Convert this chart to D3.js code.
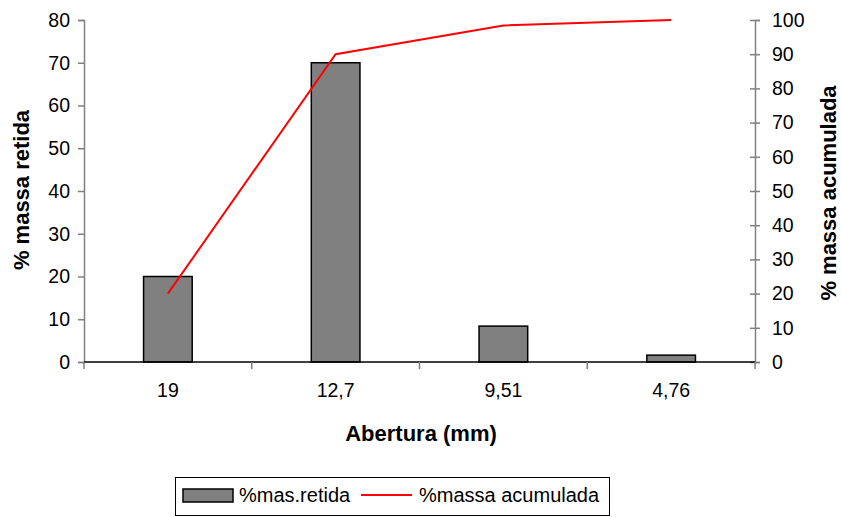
<!DOCTYPE html>
<html>
<head>
<meta charset="utf-8">
<script src="https://cdn.jsdelivr.net/npm/d3@7/dist/d3.min.js"></script>
<style>
  html, body { margin: 0; padding: 0; background: #fff; }
  svg { display: block; font-family: "Liberation Sans", Arial, sans-serif; }
</style>
</head>
<body>
<svg id="chart" width="841" height="517"></svg>
<script>
// Sieve openings (mm) and mass fractions
const aberturas = ["19", "12,7", "9,51", "4,76"];
const massaRetida = [20, 70, 8.4, 1.6];        // % retained on each sieve
const massaAcumulada = [20, 90, 98.4, 100];     // % cumulative retained
const ticksLeft = [0, 10, 20, 30, 40, 50, 60, 70, 80];
const ticksRight = [0, 10, 20, 30, 40, 50, 60, 70, 80, 90, 100];

const svg = d3.select("#chart");
const plot = { left: 84, right: 755, top: 20, bottom: 362 };

const x = d3.scaleBand().domain(aberturas).range([plot.left, plot.right]).padding(0);
const yL = d3.scaleLinear().domain([0, 80]).range([plot.bottom, plot.top]);
const yR = d3.scaleLinear().domain([0, 100]).range([plot.bottom, plot.top]);
const barW = x.bandwidth() * 0.29;
const axisGray = "#808080";
const tickFont = 19.5;

// Bars: % retained
svg.append("g").selectAll("rect")
  .data(aberturas)
  .join("rect")
  .attr("x", (d) => x(d) + (x.bandwidth() - barW) / 2)
  .attr("y", (d, i) => yL(massaRetida[i]))
  .attr("width", barW)
  .attr("height", (d, i) => yL(0) - yL(massaRetida[i]))
  .attr("fill", "#808080")
  .attr("stroke", "#000")
  .attr("stroke-width", 1.5);

// Left axis
const gL = svg.append("g")
  .attr("transform", `translate(${plot.left},0)`)
  .call(d3.axisLeft(yL).tickValues(ticksLeft).tickSize(6).tickPadding(8));
gL.select(".domain").attr("stroke", axisGray).attr("stroke-width", 1.5);
gL.selectAll(".tick line").attr("stroke", axisGray).attr("stroke-width", 1.5);
gL.selectAll(".tick text").attr("font-size", tickFont).attr("fill", "#000")
  .attr("font-family", "Liberation Sans, Arial, sans-serif");

// Right axis (ticks cross the axis line)
const gR = svg.append("g")
  .attr("transform", `translate(${plot.right},0)`)
  .call(d3.axisRight(yR).tickValues(ticksRight).tickSize(5).tickPadding(12));
gR.select(".domain").attr("stroke", axisGray).attr("stroke-width", 1.5);
gR.selectAll(".tick line").attr("x1", -5).attr("stroke", axisGray).attr("stroke-width", 1.5);
gR.selectAll(".tick text").attr("font-size", tickFont).attr("fill", "#000")
  .attr("font-family", "Liberation Sans, Arial, sans-serif");

// Bottom axis: category labels, boundary ticks
const gB = svg.append("g")
  .attr("transform", `translate(0,${plot.bottom})`)
  .call(d3.axisBottom(x).tickSize(0).tickPadding(21));
gB.select(".domain").remove();
gB.selectAll(".tick text").attr("font-size", tickFont).attr("fill", "#000")
  .attr("font-family", "Liberation Sans, Arial, sans-serif");
gB.append("line")
  .attr("x1", plot.left).attr("x2", plot.right)
  .attr("y1", 0).attr("y2", 0)
  .attr("stroke", "#000").attr("stroke-width", 1.5);
const bounds = aberturas.map((d) => x(d)).concat([x(aberturas[aberturas.length - 1]) + x.bandwidth()]);
gB.selectAll(".bound")
  .data(bounds)
  .join("line")
  .attr("class", "bound")
  .attr("x1", (d) => d).attr("x2", (d) => d)
  .attr("y1", 0).attr("y2", 7)
  .attr("stroke", axisGray).attr("stroke-width", 1.5);

// Line: % cumulative
const line = d3.line()
  .x((d, i) => x(aberturas[i]) + x.bandwidth() / 2)
  .y((d) => yR(d));
svg.append("path")
  .datum(massaAcumulada)
  .attr("d", line)
  .attr("fill", "none")
  .attr("stroke", "#ff0000")
  .attr("stroke-width", 2);

// Axis titles
svg.append("text")
  .attr("transform", "translate(29,190) rotate(-90)")
  .attr("text-anchor", "middle")
  .attr("font-size", 22).attr("font-weight", "bold")
  .text("% massa retida");
svg.append("text")
  .attr("transform", "translate(836,193) rotate(-90)")
  .attr("text-anchor", "middle")
  .attr("font-size", 22).attr("font-weight", "bold")
  .text("% massa acumulada");
svg.append("text")
  .attr("x", 421).attr("y", 441)
  .attr("text-anchor", "middle")
  .attr("font-size", 22).attr("font-weight", "bold")
  .text("Abertura (mm)");

// Legend
const lg = svg.append("g");
lg.append("rect")
  .attr("x", 175.5).attr("y", 477.5).attr("width", 434).attr("height", 38)
  .attr("fill", "#fff").attr("stroke", "#000").attr("stroke-width", 1);
lg.append("rect")
  .attr("x", 183).attr("y", 489).attr("width", 50).attr("height", 13)
  .attr("fill", "#808080").attr("stroke", "#000").attr("stroke-width", 1.5);
lg.append("text")
  .attr("x", 239).attr("y", 502)
  .attr("font-size", 20)
  .text("%mas.retida");
lg.append("line")
  .attr("x1", 361).attr("x2", 412).attr("y1", 495).attr("y2", 495)
  .attr("stroke", "#ff0000").attr("stroke-width", 2);
lg.append("text")
  .attr("x", 419).attr("y", 502)
  .attr("font-size", 20)
  .text("%massa acumulada");
</script>
</body>
</html>
